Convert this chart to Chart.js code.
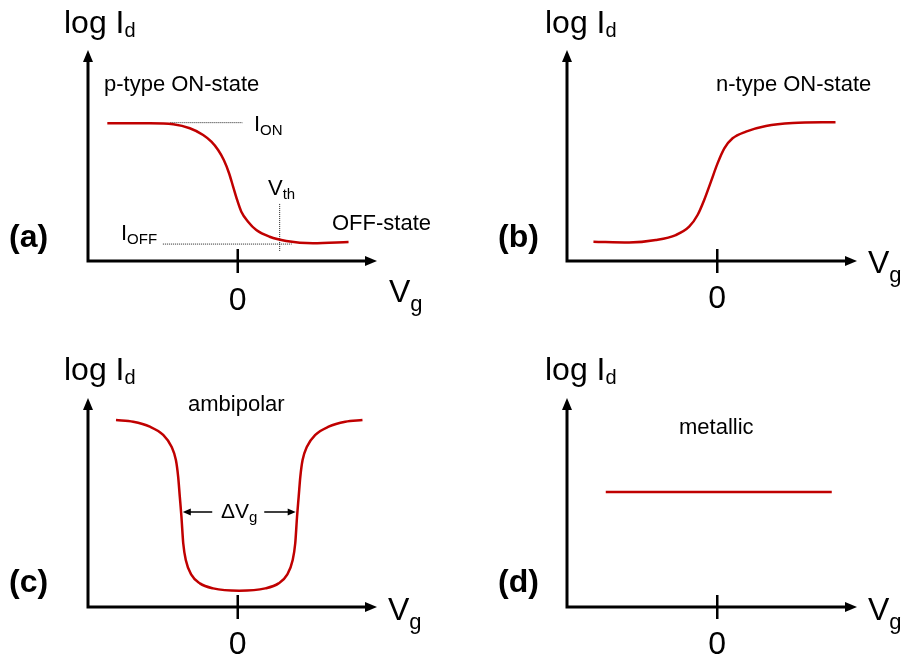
<!DOCTYPE html>
<html>
<head>
<meta charset="utf-8">
<title>FET transfer characteristics</title>
<script src="https://cdn.jsdelivr.net/npm/chart.js@4"></script>
<style>
  body{margin:0;background:#fff;}
  #wrap{position:relative;width:903px;height:659px;}
  canvas{position:absolute;}
</style>
</head>
<body>
<div id="wrap">
  <canvas id="pa" width="450" height="330" style="left:0;top:0"></canvas>
  <canvas id="pb" width="453" height="330" style="left:450px;top:0"></canvas>
  <canvas id="pc" width="450" height="329" style="left:0;top:330px"></canvas>
  <canvas id="pd" width="453" height="329" style="left:450px;top:330px"></canvas>
</div>
<script>
// gate voltage (arb. units, 0 at the tick) and log Id (arb. units, 0 at the x axis)
const vgP    = [-8.71, -5.87, -4.31, -3.2, -2.31, -1.76, -1.31, -0.93, -0.58, -0.31, -0.04, 0.24, 0.69, 1.24, 2.13, 3.24, 5.02, 7.4];
const logIdP = [6.59, 6.59, 6.54, 6.35, 6.03, 5.71, 5.31, 4.83, 4.2, 3.56, 2.92, 2.36, 1.88, 1.48, 1.16, 0.96, 0.85, 0.91];

const vgN    = [-8.24, -5.87, -4.09, -2.76, -1.87, -1.31, -0.87, -0.42, 0.02, 0.47, 1.02, 1.91, 3.24, 5.02, 7.87];
const logIdN = [0.92, 0.88, 1.0, 1.24, 1.64, 2.2, 2.92, 3.8, 4.67, 5.39, 5.87, 6.19, 6.46, 6.6, 6.64];

const vgA    = [-8.13, -6.98, -5.87, -4.98, -4.42, -4.13, -3.98, -3.87, -3.76, -3.64, -3.47, -3.09, -2.53, -1.64, 0.1,
                1.84, 2.73, 3.29, 3.67, 3.84, 3.96, 4.07, 4.18, 4.33, 4.62, 5.18, 6.07, 7.18, 8.33];
const logIdA = [9.03, 8.95, 8.71, 8.31, 7.74, 7.1, 6.3, 5.33, 4.36, 3.08, 2.27, 1.55, 1.14, 0.9, 0.79,
                0.9, 1.14, 1.55, 2.27, 3.08, 4.36, 5.33, 6.3, 7.1, 7.74, 8.31, 8.71, 8.95, 9.03];

const vgM    = [-7.42, 7.62];
const logIdM = [5.56, 5.56];

const xTicks = [0];
const ionLevel = 6.62, ioffLevel = 0.81, vth = 2.8;   // panel (a) markers
const dvgLeft = -3.67, dvgRight = 3.87, dvgLevel = 4.59; // panel (c) window

const FAM = '"Liberation Sans", Arial, sans-serif';
const RED = '#c00000';

function pts(xs, ys) { return xs.map((v, i) => ({x: v, y: ys[i]})); }

function text(ctx, n) {
  ctx.fillStyle = '#000';
  ctx.textBaseline = 'alphabetic';
  ctx.textAlign = 'left';
  ctx.font = (n.bold ? 'bold ' : '') + n.size + 'px ' + FAM;
  let w = ctx.measureText(n.text).width;
  let x = n.x;
  if (n.center) {
    let tw = w;
    if (n.sub) { ctx.font = n.subSize + 'px ' + FAM; tw += ctx.measureText(n.sub).width; ctx.font = n.size + 'px ' + FAM; }
    x -= tw / 2;
  }
  ctx.fillText(n.text, x, n.y);
  if (n.sub) {
    ctx.font = n.subSize + 'px ' + FAM;
    ctx.fillText(n.sub, x + w, n.y + n.drop);
  }
}

function dotted(ctx, x1, y1, x2, y2) {
  ctx.save();
  ctx.strokeStyle = '#222';
  ctx.lineWidth = 1;
  ctx.setLineDash([1, 1]);
  ctx.beginPath(); ctx.moveTo(x1, y1); ctx.lineTo(x2, y2); ctx.stroke();
  ctx.restore();
}

function arrowHead(ctx, tx, ty, dx, dy, len, half) {
  ctx.beginPath();
  ctx.moveTo(tx, ty);
  ctx.lineTo(tx - dx * len - dy * half, ty - dy * len + dx * half);
  ctx.lineTo(tx - dx * len + dy * half, ty - dy * len - dx * half);
  ctx.closePath();
  ctx.fill();
}

const sketch = {
  id: 'sketch',
  beforeDatasetsDraw(chart, args, o) {
    const {ctx, scales: {x, y}} = chart;
    if (o.markers) {
      const yOn = y.getPixelForValue(ionLevel), yOff = y.getPixelForValue(ioffLevel), xv = x.getPixelForValue(vth);
      dotted(ctx, x.getPixelForValue(-4.5), yOn, x.getPixelForValue(0.33), yOn);
      dotted(ctx, x.getPixelForValue(-5), yOff, x.getPixelForValue(3.6), yOff);
      dotted(ctx, xv, y.getPixelForValue(2.73), xv, y.getPixelForValue(0.43));
    }
  },
  afterDatasetsDraw(chart, args, o) {
    const {ctx, chartArea: a, scales: {x, y}} = chart;
    ctx.save();
    ctx.strokeStyle = '#000';
    ctx.fillStyle = '#000';
    ctx.lineWidth = 3;
    ctx.lineCap = 'butt';
    // axes with arrows
    ctx.beginPath();
    ctx.moveTo(a.left, a.bottom + 1.5); ctx.lineTo(a.left, a.top + 8);
    ctx.moveTo(a.left - 1.5, a.bottom); ctx.lineTo(a.right - 8, a.bottom);
    ctx.stroke();
    arrowHead(ctx, a.left, a.top - 2, 0, -1, 12, 5);
    arrowHead(ctx, a.right, a.bottom, 1, 0, 12, 5);
    // zero tick and its label
    ctx.lineWidth = 2.5;
    xTicks.forEach(t => {
      const px = x.getPixelForValue(t);
      ctx.beginPath(); ctx.moveTo(px, a.bottom - 12); ctx.lineTo(px, a.bottom + 12); ctx.stroke();
      text(ctx, {text: String(t), x: px, y: o.zeroY, size: 32, center: true});
    });
    // delta Vg window
    if (o.window) {
      const yw = y.getPixelForValue(dvgLevel), xl = x.getPixelForValue(dvgLeft), xr = x.getPixelForValue(dvgRight);
      const xm = x.getPixelForValue((dvgLeft + dvgRight) / 2);
      ctx.lineWidth = 1.5;
      ctx.beginPath();
      ctx.moveTo(xl + 6, yw); ctx.lineTo(xm - 27, yw);
      ctx.moveTo(xm + 25, yw); ctx.lineTo(xr - 6, yw);
      ctx.stroke();
      arrowHead(ctx, xl, yw, -1, 0, 8, 3.5);
      arrowHead(ctx, xr, yw, 1, 0, 8, 3.5);
      text(ctx, {text: '\u0394V', sub: 'g', x: xm, y: yw + 6, size: 21, subSize: 15, drop: 4, center: true});
    }
    (o.notes || []).forEach(n => text(ctx, n));
    ctx.restore();
  }
};

function panel(id, data, pad, extra) {
  new Chart(document.getElementById(id), {
    type: 'line',
    data: {datasets: [{
      data: data,
      borderColor: RED,
      borderWidth: 2.5,
      pointRadius: 0,
      fill: false,
      cubicInterpolationMode: 'monotone'
    }]},
    options: {
      responsive: false,
      animation: false,
      events: [],
      layout: {padding: pad},
      scales: {
        x: {type: 'linear', min: -10, max: 9.3, display: false},
        y: {type: 'linear', min: 0, max: 10, display: false}
      },
      plugins: {legend: {display: false}, tooltip: {enabled: false}, sketch: extra}
    },
    plugins: [sketch]
  });
}

const big = {size: 32, subSize: 20, drop: 4};
const vg = {size: 32, subSize: 22, drop: 9};

panel('pa', pts(vgP, logIdP), {left: 88, top: 52, right: 73, bottom: 69}, {
  markers: true, zeroY: 310,
  notes: [
    Object.assign({text: 'log I', sub: 'd', x: 64, y: 33}, big),
    {text: '(a)', x: 9, y: 247, size: 32, bold: true},
    {text: 'p-type ON-state', x: 104, y: 91, size: 22},
    {text: 'I', sub: 'ON', x: 254, y: 131, size: 22, subSize: 15, drop: 4},
    {text: 'V', sub: 'th', x: 268, y: 195, size: 22, subSize: 15, drop: 4},
    {text: 'I', sub: 'OFF', x: 121, y: 240, size: 22, subSize: 15, drop: 4},
    {text: 'OFF-state', x: 332, y: 230, size: 22},
    Object.assign({text: 'V', sub: 'g', x: 389, y: 302}, vg)
  ]
});

panel('pb', pts(vgN, logIdN), {left: 117, top: 52, right: 46, bottom: 69}, {
  zeroY: 308,
  notes: [
    Object.assign({text: 'log I', sub: 'd', x: 95, y: 33}, big),
    {text: '(b)', x: 48, y: 247, size: 32, bold: true},
    {text: 'n-type ON-state', x: 266, y: 91, size: 22},
    Object.assign({text: 'V', sub: 'g', x: 418, y: 273}, vg)
  ]
});

panel('pc', pts(vgA, logIdA), {left: 88, top: 70, right: 73, bottom: 52}, {
  window: true, zeroY: 324,
  notes: [
    Object.assign({text: 'log I', sub: 'd', x: 64, y: 50}, big),
    {text: '(c)', x: 9, y: 262, size: 32, bold: true},
    {text: 'ambipolar', x: 188, y: 81, size: 22},
    Object.assign({text: 'V', sub: 'g', x: 388, y: 290}, vg)
  ]
});

panel('pd', pts(vgM, logIdM), {left: 117, top: 70, right: 46, bottom: 52}, {
  zeroY: 324,
  notes: [
    Object.assign({text: 'log I', sub: 'd', x: 95, y: 50}, big),
    {text: '(d)', x: 48, y: 262, size: 32, bold: true},
    {text: 'metallic', x: 229, y: 104, size: 22},
    Object.assign({text: 'V', sub: 'g', x: 418, y: 290}, vg)
  ]
});
</script>
</body>
</html>
